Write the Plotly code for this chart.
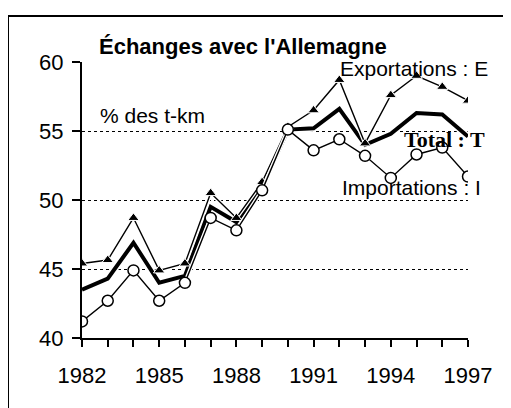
import plotly.graph_objects as go

years = list(range(1982, 1998))
exportations = [45.4, 45.65, 48.7, 44.9, 45.4, 50.5, 48.7, 51.3, 55.3, 56.5, 58.7, 54.1, 57.6, 59.0, 58.2, 57.2]
total = [43.5, 44.3, 46.9, 44.0, 44.5, 49.5, 48.4, 50.9, 55.1, 55.2, 56.6, 54.0, 54.8, 56.3, 56.2, 54.6]
importations = [41.2, 42.7, 44.9, 42.7, 44.0, 48.7, 47.8, 50.7, 55.1, 53.6, 54.4, 53.2, 51.6, 53.3, 53.8, 51.7]
xtick_vals = [1982, 1985, 1988, 1991, 1994, 1997]
ytick_vals = [40, 45, 50, 55, 60]

fig = go.Figure()
# Total (thick line)
fig.add_trace(go.Scatter(x=years, y=total, mode="lines",
                         line=dict(color="white", width=7), hoverinfo="skip"))
fig.add_trace(go.Scatter(x=years, y=total, mode="lines",
                         line=dict(color="black", width=4)))
# Exportations (triangles)
fig.add_trace(go.Scatter(x=years, y=exportations, mode="lines",
                         line=dict(color="white", width=4), hoverinfo="skip"))
fig.add_trace(go.Scatter(x=years, y=exportations, mode="lines+markers",
                         line=dict(color="black", width=1.4),
                         marker=dict(symbol="triangle-up", size=10, color="black",
                                     line=dict(color="white", width=1))))
# Importations (circles)
fig.add_trace(go.Scatter(x=years, y=importations, mode="lines",
                         line=dict(color="white", width=4), hoverinfo="skip"))
fig.add_trace(go.Scatter(x=years, y=importations, mode="lines+markers",
                         line=dict(color="black", width=1.4),
                         marker=dict(symbol="circle", size=11, color="white",
                                     line=dict(color="black", width=1.5))))

font = "Liberation Sans, Arial, sans-serif"
fig.add_annotation(x=0.417, y=1.109, xref="paper", yref="paper", showarrow=False,
                   text="<b>Échanges avec l'Allemagne</b>",
                   font=dict(family=font, size=22, color="black"))
fig.add_annotation(x=1982.62, y=56.1, showarrow=False, xanchor="left", yanchor="middle",
                   text="% des t-km", font=dict(family=font, size=21, color="black"))
fig.add_annotation(x=1991.95, y=59.5, showarrow=False, xanchor="left", yanchor="middle",
                   text="Exportations : E", font=dict(family=font, size=21, color="black"))
fig.add_annotation(x=1992.03, y=50.9, showarrow=False, xanchor="left", yanchor="middle",
                   text="Importations : I", font=dict(family=font, size=21, color="black"))
fig.add_annotation(x=1994.44, y=54.35, showarrow=False, xanchor="left", yanchor="middle",
                   text="<b>Total : T</b>",
                   font=dict(family="Liberation Serif, Times New Roman, serif", size=22, color="black"))

# outer frame (top and left edges)
fig.add_shape(type="line", xref="paper", yref="paper", x0=-0.1917, x1=1.3, y0=1.1667, y1=1.1667,
              line=dict(color="black", width=2))
fig.add_shape(type="line", xref="paper", yref="paper", x0=-0.1917, x1=-0.1917, y0=1.1667, y1=-0.4,
              line=dict(color="black", width=2))

fig.update_layout(
    width=503, height=400,
    margin=dict(l=74, r=43, t=54, b=70),
    paper_bgcolor="white", plot_bgcolor="white",
    showlegend=False,
    font=dict(family=font, size=22, color="black"),
    xaxis=dict(range=[1982, 1997], tickmode="array", tickvals=years,
               ticktext=[str(y) if y in xtick_vals else "" for y in years],
               showline=True, linecolor="black", linewidth=2,
               ticks="outside", ticklen=7, tickwidth=1.5, tickcolor="black",
               ticklabelstandoff=10,
               showgrid=False, zeroline=False),
    yaxis=dict(range=[40, 60], tickvals=ytick_vals,
               showline=True, linecolor="black", linewidth=2,
               ticks="outside", ticklen=8, tickwidth=1.5, tickcolor="black",
               ticklabelstandoff=4,
               showgrid=True, gridcolor="black", gridwidth=1.3, griddash="dot",
               zeroline=False),
)

fig.write_html("out.html")
